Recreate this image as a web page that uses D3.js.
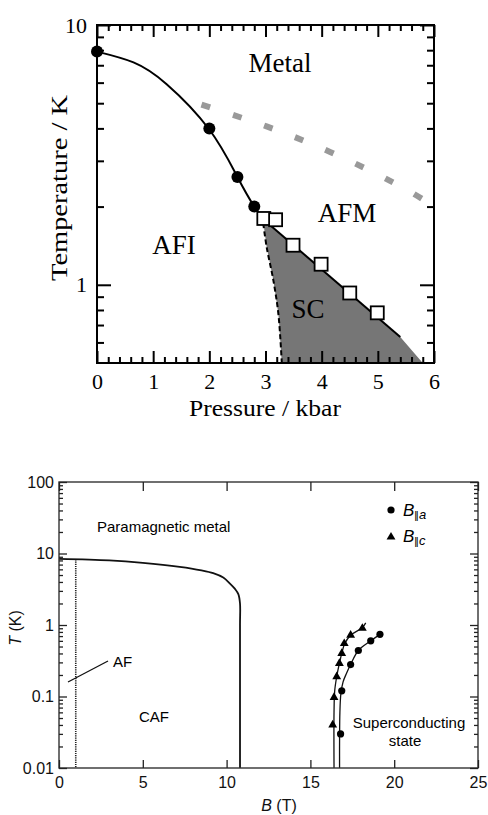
<!DOCTYPE html>
<html><head><meta charset="utf-8">
<script src="https://cdn.jsdelivr.net/npm/d3@7"></script>
<style>body{margin:0;background:#fff}svg{display:block}</style>
</head><body><svg id="c" width="488" height="815"></svg>
<script>
// ---------- Top chart data (Pressure / kbar vs Temperature / K) ----------
const tnPressure = [0, 2, 2.5, 2.8];
const tnTemp     = [7.9, 4.0, 2.6, 2.0];
const tcPressure = [2.97, 3.18, 3.49, 3.99, 4.5, 4.99];
const tcTemp     = [1.80, 1.78, 1.42, 1.20, 0.93, 0.78];
const tnCurve    = [[0,7.9],[0.65,7.18],[1.24,5.92],[2,3.96],[2.5,2.6],[2.8,2.0],[2.97,1.78]];
const afmLine    = [[2.97,1.78],[5.4,0.63]];
const scDashed   = [[2.96,1.72],[3.02,1.4],[3.14,1.04],[3.23,0.77],[3.29,0.5]];
const scRegion   = [[2.96,1.75],[3.02,1.4],[3.14,1.04],[3.23,0.77],[3.29,0.5],[5.8,0.5],[5.4,0.63],[2.97,1.78]];
const crossover  = [[1.86,4.94],[3.02,4.07],[4.16,3.24],[5.27,2.48],[5.85,2.1]];
const xTicks1    = [0,1,2,3,4,5,6];
const yTicks1    = [1,10];
const yMinor1    = [0.6,0.7,0.8,0.9,2,3,4,5,6,7,8,9];

// ---------- Bottom chart data (B / T vs T / K) ----------
const cafCurve = [[0,8.4],[3,8.0],[5,7.4],[7.2,6.5],[8.5,5.8],[9.2,5.3],[9.8,4.6],[10.2,3.8],[10.5,3.2],[10.7,2.7],[10.8,2.0],[10.8,1.0],[10.8,0.01]];
const afLine   = [[1.0,8.3],[1.0,0.01]];
const bcField  = [16.33,16.41,16.57,16.73,16.87,17.02,17.4,18.1];
const bcTemp   = [0.040,0.097,0.19,0.29,0.40,0.55,0.72,0.90];
const baField  = [16.8,16.87,17.4,17.86,18.6,19.15];
const baTemp   = [0.030,0.12,0.28,0.44,0.60,0.74];
const bcCurve  = [[16.41,0.01],[16.41,0.06],[16.45,0.12],[16.57,0.19],[16.73,0.29],[16.87,0.40],[17.05,0.55],[17.4,0.72],[18.1,0.92],[18.3,1.07]];
const baCurve  = [[16.74,0.01],[16.76,0.06],[16.82,0.11],[16.95,0.16],[17.15,0.21],[17.4,0.28],[17.86,0.44],[18.6,0.60],[19.15,0.74]];
const xTicks2  = [0,5,10,15,20,25];
const yTicks2  = [0.01,0.1,1,10,100];
const yMinor2  = [];
[0.01,0.1,1,10].forEach(d=>{for(let k=2;k<=9;k++) yMinor2.push(+(d*k).toPrecision(3));});

const svg = d3.select("#c");
const serif = "'Liberation Serif','Times New Roman',serif";
const sans  = "'Liberation Sans',Arial,Helvetica,sans-serif";

// ================= TOP CHART =================
const x1 = d3.scaleLinear().domain([0,6]).range([97,434]);
const y1 = d3.scaleLog().domain([0.5,10]).range([363,25]);
const g1 = svg.append("g");

// SC shaded region
g1.append("path").datum(scRegion)
  .attr("d", d3.line().x(d=>x1(d[0])).y(d=>y1(d[1])))
  .attr("fill","#767676").attr("stroke","none");

// crossover gray dashed band
g1.append("path").datum(crossover)
  .attr("d", d3.line().curve(d3.curveNatural).x(d=>x1(d[0])).y(d=>y1(d[1])))
  .attr("fill","none").attr("stroke","#999").attr("stroke-width",6)
  .attr("stroke-dasharray","9,24");

// SC dashed boundary
g1.append("path").datum(scDashed)
  .attr("d", d3.line().curve(d3.curveCatmullRom).x(d=>x1(d[0])).y(d=>y1(d[1])))
  .attr("fill","none").attr("stroke","#000").attr("stroke-width",2)
  .attr("stroke-dasharray","5,3");

// solid phase boundary
g1.append("path").datum(tnCurve)
  .attr("d", d3.line().curve(d3.curveNatural).x(d=>x1(d[0])).y(d=>y1(d[1])))
  .attr("fill","none").attr("stroke","#000").attr("stroke-width",2);
g1.append("path").datum(afmLine)
  .attr("d", d3.line().x(d=>x1(d[0])).y(d=>y1(d[1])))
  .attr("fill","none").attr("stroke","#000").attr("stroke-width",2);

// frame
g1.append("rect").attr("x",x1(0)).attr("y",y1(10)).attr("width",x1(6)-x1(0)).attr("height",y1(0.5)-y1(10))
  .attr("fill","none").attr("stroke","#000").attr("stroke-width",2);

// axes ticks
const minorX1 = d3.range(0,6.01,0.2).map(d=>+d.toFixed(1)).filter(d=>!xTicks1.includes(d));
function axisStyle(sel){ sel.select(".domain").remove(); sel.selectAll("line").attr("stroke","#000").attr("stroke-width",2); }
g1.append("g").attr("transform",`translate(0,${y1(0.5)})`)
  .call(d3.axisBottom(x1).tickValues(xTicks1).tickSize(-12).tickPadding(10).tickFormat(d3.format("d")))
  .call(axisStyle).call(s=>s.selectAll("text").attr("font-family",serif).attr("font-size",22).attr("fill","#000"));
g1.append("g").attr("transform",`translate(0,${y1(0.5)})`)
  .call(d3.axisBottom(x1).tickValues(minorX1).tickSize(-6).tickFormat(""))
  .call(axisStyle);
g1.append("g").attr("transform",`translate(0,${y1(10)})`)
  .call(d3.axisTop(x1).tickValues(xTicks1).tickSize(-12).tickFormat(""))
  .call(axisStyle);
g1.append("g").attr("transform",`translate(0,${y1(10)})`)
  .call(d3.axisTop(x1).tickValues(minorX1).tickSize(-6).tickFormat(""))
  .call(axisStyle);
g1.append("g").attr("transform",`translate(${x1(0)},0)`)
  .call(d3.axisLeft(y1).tickValues(yTicks1).tickSize(-14).tickPadding(10).tickFormat(d3.format("d")))
  .call(axisStyle).call(s=>s.selectAll("text").attr("font-family",serif).attr("font-size",22).attr("fill","#000"));
g1.append("g").attr("transform",`translate(${x1(0)},0)`)
  .call(d3.axisLeft(y1).tickValues(yMinor1).tickSize(-7).tickFormat(""))
  .call(axisStyle);
g1.append("g").attr("transform",`translate(${x1(6)},0)`)
  .call(d3.axisRight(y1).tickValues(yTicks1).tickSize(-14).tickFormat(""))
  .call(axisStyle);
g1.append("g").attr("transform",`translate(${x1(6)},0)`)
  .call(d3.axisRight(y1).tickValues(yMinor1).tickSize(-7).tickFormat(""))
  .call(axisStyle);

// markers
g1.selectAll("circle.tn").data(tnPressure).join("circle")
  .attr("cx",(d)=>x1(d)).attr("cy",(d,i)=>y1(tnTemp[i])).attr("r",6).attr("fill","#000");
g1.selectAll("rect.tc").data(tcPressure).join("rect")
  .attr("x",d=>x1(d)-6.5).attr("y",(d,i)=>y1(tcTemp[i])-6.5).attr("width",13).attr("height",13)
  .attr("fill","#fff").attr("stroke","#000").attr("stroke-width",1.8);

// labels
function lab(g,txt,x,y,size,fam,anchor,extra){
  const t=g.append("text").attr("x",x).attr("y",y).attr("font-family",fam).attr("font-size",size)
   .attr("text-anchor",anchor||"middle").attr("fill","#000").text(txt);
  if(extra) extra(t);
  return t;
}
lab(g1,"Metal",280,72,27,serif);
lab(g1,"AFM",347,222,27,serif);
lab(g1,"AFI",174,254,27,serif);
lab(g1,"SC",308,318,27,serif);
lab(g1,"Pressure / kbar",265,416,24,serif,"middle",t=>t.attr("textLength",152).attr("lengthAdjust","spacingAndGlyphs"));
lab(g1,"Temperature / K",0,0,24,serif,"middle",t=>t.attr("transform","translate(67,188) rotate(-90)").attr("textLength",186).attr("lengthAdjust","spacingAndGlyphs"));

// ================= BOTTOM CHART =================
const x2 = d3.scaleLinear().domain([0,25]).range([59,478]);
const y2 = d3.scaleLog().domain([0.01,100]).range([768,482]);
const g2 = svg.append("g");
const lc = d3.line().curve(d3.curveCatmullRom).x(d=>x2(d[0])).y(d=>y2(d[1]));

g2.append("path").datum(afLine).attr("d",d3.line().x(d=>x2(d[0])).y(d=>y2(d[1])))
  .attr("fill","none").attr("stroke","#222").attr("stroke-width",1.6).attr("stroke-dasharray","1.2,1");
g2.append("path").datum(cafCurve).attr("d",lc)
  .attr("fill","none").attr("stroke","#111").attr("stroke-width",1.8);
g2.append("path").datum(bcCurve).attr("d",lc)
  .attr("fill","none").attr("stroke","#111").attr("stroke-width",1.3);
g2.append("path").datum(baCurve).attr("d",lc)
  .attr("fill","none").attr("stroke","#111").attr("stroke-width",1.3);

g2.append("rect").attr("x",x2(0)).attr("y",y2(100)).attr("width",x2(25)-x2(0)).attr("height",y2(0.01)-y2(100))
  .attr("fill","none").attr("stroke","#333").attr("stroke-width",1.4);

function axisStyle2(sel){ sel.select(".domain").remove(); sel.selectAll("line").attr("stroke","#222").attr("stroke-width",1.3); }
g2.append("g").attr("transform",`translate(0,${y2(0.01)})`)
  .call(d3.axisBottom(x2).tickValues(xTicks2).tickSize(-8).tickPadding(9).tickFormat(d3.format("d")))
  .call(axisStyle2).call(s=>s.selectAll("text").attr("font-family",sans).attr("font-size",16).attr("fill","#111"));
g2.append("g").attr("transform",`translate(0,${y2(100)})`)
  .call(d3.axisTop(x2).tickValues(xTicks2).tickSize(-9).tickFormat(""))
  .call(axisStyle2);
g2.append("g").attr("transform",`translate(${x2(0)},0)`)
  .call(d3.axisLeft(y2).tickValues(yTicks2).tickSize(-8).tickPadding(5).tickFormat(d=>String(d)))
  .call(axisStyle2).call(s=>s.selectAll("text").attr("font-family",sans).attr("font-size",16).attr("fill","#111"));
g2.append("g").attr("transform",`translate(${x2(0)},0)`)
  .call(d3.axisLeft(y2).tickValues(yMinor2).tickSize(-4).tickFormat(""))
  .call(axisStyle2);
g2.append("g").attr("transform",`translate(${x2(25)},0)`)
  .call(d3.axisRight(y2).tickValues(yTicks2).tickSize(-8).tickFormat(""))
  .call(axisStyle2);
g2.append("g").attr("transform",`translate(${x2(25)},0)`)
  .call(d3.axisRight(y2).tickValues(yMinor2).tickSize(-4).tickFormat(""))
  .call(axisStyle2);

// markers
const tri = d3.symbol().type(d3.symbolTriangle).size(34);
g2.selectAll("path.bc").data(bcField).join("path")
  .attr("transform",(d,i)=>`translate(${x2(d)},${y2(bcTemp[i])})`).attr("d",tri).attr("fill","#000");
g2.selectAll("circle.ba").data(baField).join("circle")
  .attr("cx",d=>x2(d)).attr("cy",(d,i)=>y2(baTemp[i])).attr("r",3.6).attr("fill","#000");

// legend
g2.append("circle").attr("cx",391).attr("cy",510).attr("r",3.6).attr("fill","#000");
g2.append("path").attr("transform","translate(391,537)").attr("d",tri).attr("fill","#000");
function legendText(y,sub){
  const t = g2.append("text").attr("x",403).attr("y",y).attr("font-family",sans).attr("font-size",17).attr("fill","#000");
  t.append("tspan").attr("font-style","italic").text("B");
  t.append("tspan").attr("font-size",11).attr("dy",3).attr("letter-spacing",-1.5).text("||");
  t.append("tspan").attr("font-size",13).attr("dx",2).attr("font-style","italic").text(sub);
}
legendText(516,"a");
legendText(542,"c");

// region labels
lab(g2,"Paramagnetic metal",97,532,15,sans,"start");
lab(g2,"AF",113,667,15,sans,"start");
lab(g2,"CAF",139,722,15,sans,"start");
lab(g2,"Superconducting",409,728,15,sans,"middle");
lab(g2,"state",405,746,15,sans,"middle");
g2.append("line").attr("x1",68).attr("y1",682).attr("x2",108).attr("y2",661).attr("stroke","#111").attr("stroke-width",1.3);

// axis titles
const bt = g2.append("text").attr("x",279).attr("y",811).attr("font-family",sans).attr("font-size",16).attr("text-anchor","middle").attr("fill","#111");
bt.append("tspan").attr("font-style","italic").text("B");
bt.append("tspan").text(" (T)");
const tt = g2.append("text").attr("transform","translate(21,628) rotate(-90)").attr("font-family",sans).attr("font-size",16).attr("text-anchor","middle").attr("fill","#111");
tt.append("tspan").attr("font-style","italic").text("T");
tt.append("tspan").text(" (K)");
</script></body></html>
